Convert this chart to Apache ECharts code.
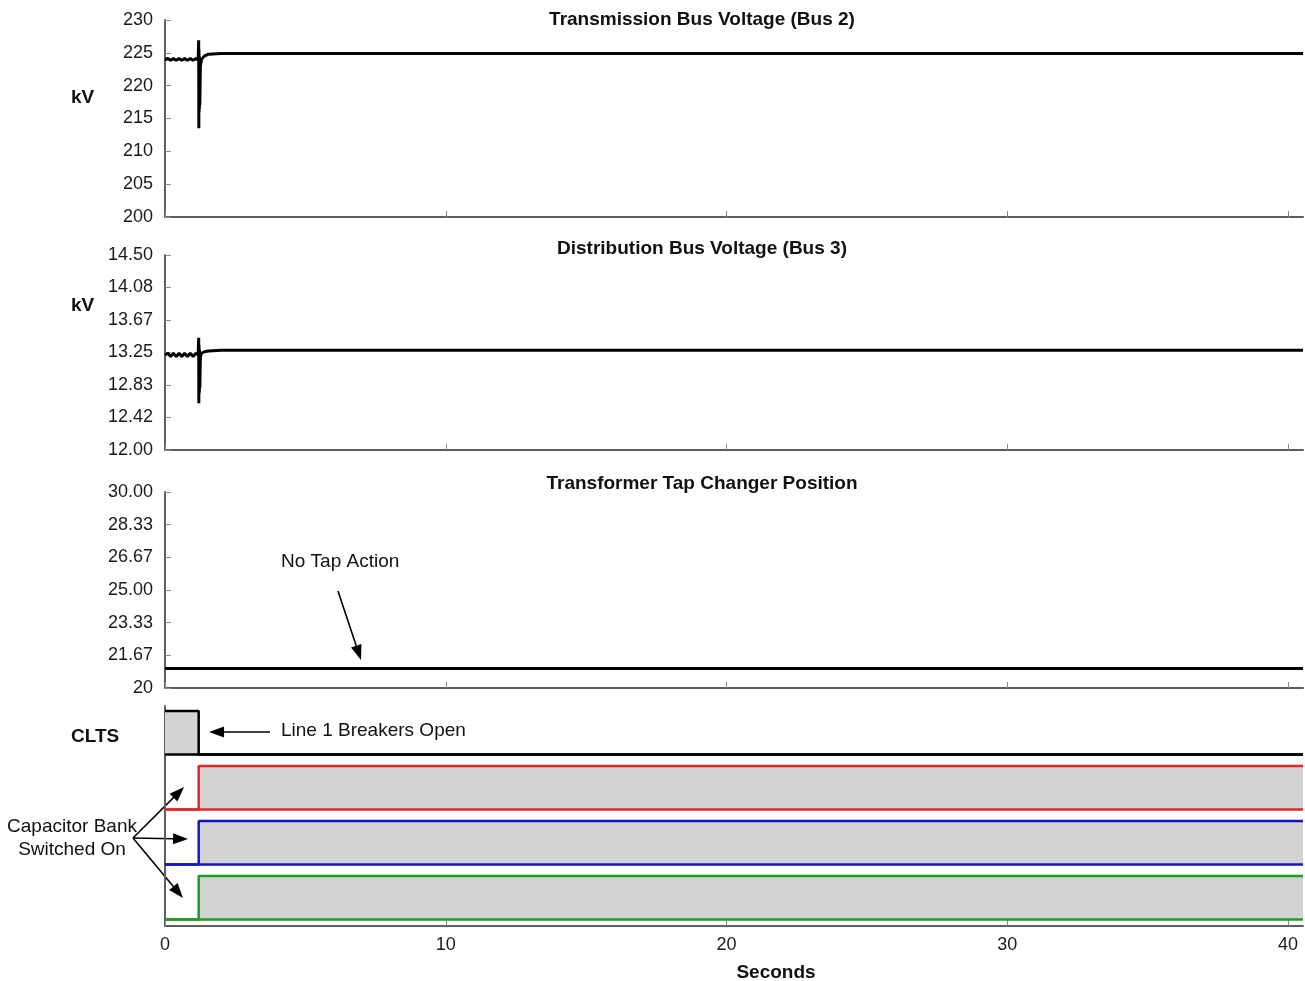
<!DOCTYPE html>
<html><head><meta charset="utf-8">
<script src="https://cdn.jsdelivr.net/npm/echarts@6/dist/echarts.min.js"></script>
<style>html,body{margin:0;padding:0;background:#fff}#c{width:1305px;height:981px}</style>
</head><body><div id="c"></div>
<script>
// ---------------- data ----------------
const timeEnd = 40.53;
const xTickValues = [0, 10, 20, 30, 40];
const xTickLabels = ['0', '10', '20', '30', '40'];

const bus2Time = [0, 0.1, 0.2, 0.3, 0.4, 0.5, 0.6, 0.7, 0.8, 0.9, 1.0, 1.1, 1.18, 1.2, 1.205, 1.21, 1.215, 1.22, 1.225, 1.23, 1.24, 1.26, 1.3, 1.4, 1.55, 2.0, 40.53];
const bus2Kv   = [223.9, 224.15, 223.85, 224.15, 223.85, 224.15, 223.85, 224.15, 223.85, 224.15, 223.85, 224.15, 223.9, 226.9, 213.5, 225.5, 216.0, 224.5, 216.5, 224.0, 217.0, 223.0, 224.0, 224.5, 224.8, 224.9, 224.9];

const bus3Time = [0, 0.1, 0.2, 0.3, 0.4, 0.5, 0.6, 0.7, 0.8, 0.9, 1.0, 1.1, 1.18, 1.2, 1.205, 1.21, 1.215, 1.22, 1.225, 1.23, 1.24, 1.26, 1.3, 1.4, 1.55, 2.0, 40.53];
const bus3Kv   = [13.22, 13.24, 13.20, 13.24, 13.20, 13.24, 13.20, 13.24, 13.20, 13.24, 13.20, 13.24, 13.22, 13.44, 12.60, 13.35, 12.72, 13.30, 12.75, 13.28, 12.80, 13.20, 13.24, 13.26, 13.27, 13.28, 13.28];

const tapTime = [0, 40.53];
const tapPosition = [21, 21];

const bus2TickLabels = ['200', '205', '210', '215', '220', '225', '230'];
const bus3TickLabels = ['12.00', '12.42', '12.83', '13.25', '13.67', '14.08', '14.50'];
const tapTickLabels  = ['20', '21.67', '23.33', '25.00', '26.67', '28.33', '30.00'];

const switchTime     = [0, 1.2, 1.2, 40.53];
const cltsState      = [1, 1, 0, 0];
const capRedState    = [0, 0, 1, 1];
const capBlueState   = [0, 0, 1, 1];
const capGreenState  = [0, 0, 1, 1];

// ---------------- chart ----------------
const FONT = '"Liberation Sans", Arial, sans-serif';
const chart = echarts.init(document.getElementById('c'), null, {renderer: 'canvas'});

const grids = [
  {left: 165, right: 2, top: 20, height: 197},
  {left: 165, right: 2, top: 255, height: 195},
  {left: 165, right: 2, top: 492, height: 196},
  {left: 165, right: 2, top: 706, height: 220}
];

function tickValues(min, max, labels) {
  const n = labels.length - 1;
  return labels.map((_, i) => min + i * (max - min) / n);
}
function yAxis(gi, min, max, labels) {
  const vals = tickValues(min, max, labels);
  return {
    type: 'value', gridIndex: gi, min: min, max: max,
    axisLine: {show: true, onZero: false, lineStyle: {color: '#5e5e5e', width: 2}},
    axisTick: {show: true, inside: true, length: 6, customValues: vals, lineStyle: {color: '#8a8a8a', width: 1}},
    axisLabel: {show: true, customValues: vals, margin: 12, fontSize: 18, fontFamily: FONT, color: '#1a1a1a',
      formatter: v => labels[Math.round((v - min) / ((max - min) / (labels.length - 1)))]},
    splitLine: {show: false}
  };
}
function xAxis(gi, showLabels) {
  return {
    type: 'value', gridIndex: gi, min: 0, max: timeEnd,
    axisLine: {show: true, onZero: false, lineStyle: {color: '#5e5e5e', width: 2}},
    axisTick: {show: true, inside: true, length: 6, customValues: xTickValues, lineStyle: {color: '#8a8a8a', width: 1}},
    axisLabel: {show: showLabels, customValues: xTickValues, margin: 10, fontSize: 18, fontFamily: FONT, color: '#1a1a1a',
      formatter: v => xTickLabels[xTickValues.indexOf(v)]},
    splitLine: {show: false}
  };
}

function zip(a, b) { return a.map((t, i) => [t, b[i]]); }
function level(band, state) { return band + 0.12 + state * 0.79; }

function digital(band, states, color) {
  return [
    {
      type: 'line', xAxisIndex: 3, yAxisIndex: 3, showSymbol: false, animation: false, z: 3,
      data: switchTime.map((t, i) => [t, level(band, states[i])]),
      lineStyle: {color: color, width: 2.5},
      areaStyle: {color: '#d3d3d3', opacity: 1, origin: level(band, 0)}
    },
    {
      type: 'line', xAxisIndex: 3, yAxisIndex: 3, showSymbol: false, animation: false, z: 4,
      data: [[0, level(band, 0)], [timeEnd, level(band, 0)]],
      lineStyle: {color: color, width: 2.5}
    }
  ];
}

const analog = (gi, data) => ({
  type: 'line', xAxisIndex: gi, yAxisIndex: gi, showSymbol: false, animation: false,
  data: data, lineStyle: {color: '#000', width: 3}
});

chart.setOption({
  animation: false,
  backgroundColor: '#fff',
  grid: grids,
  xAxis: [xAxis(0, false), xAxis(1, false), xAxis(2, false), xAxis(3, true)],
  yAxis: [
    yAxis(0, 200, 230, bus2TickLabels),
    yAxis(1, 12, 14.5, bus3TickLabels),
    yAxis(2, 20, 30, tapTickLabels),
    {type: 'value', gridIndex: 3, min: 0, max: 4,
     axisLine: {show: true, onZero: false, lineStyle: {color: '#5e5e5e', width: 2}},
     axisTick: {show: false}, axisLabel: {show: false}, splitLine: {show: false}}
  ],
  series: [
    analog(0, zip(bus2Time, bus2Kv)),
    analog(1, zip(bus3Time, bus3Kv)),
    analog(2, zip(tapTime, tapPosition)),
    ...digital(3, cltsState, '#000000'),
    ...digital(2, capRedState, '#e3262a'),
    ...digital(1, capBlueState, '#1414c8'),
    ...digital(0, capGreenState, '#1f9a2a')
  ]
});

// ---------------- annotations ----------------
function arrow(gi, from, to) {
  const p0 = chart.convertToPixel({xAxisIndex: gi, yAxisIndex: gi}, from);
  const p1 = chart.convertToPixel({xAxisIndex: gi, yAxisIndex: gi}, to);
  const dx = p1[0] - p0[0], dy = p1[1] - p0[1], L = Math.hypot(dx, dy);
  const ux = dx / L, uy = dy / L, head = 15, hw = 5.5;
  const bx = p1[0] - ux * head, by = p1[1] - uy * head;
  return [
    {type: 'line', silent: true, shape: {x1: p0[0], y1: p0[1], x2: bx, y2: by}, style: {stroke: '#000', lineWidth: 1.6}},
    {type: 'polygon', silent: true, shape: {points: [[p1[0], p1[1]], [bx - uy * hw, by + ux * hw], [bx + uy * hw, by - ux * hw]]}, style: {fill: '#000'}}
  ];
}
function text(x, y, str, opts) {
  return {type: 'text', silent: true, x: x, y: y, style: Object.assign({
    text: str, font: '19px ' + FONT, fill: '#111', textAlign: 'left', textVerticalAlign: 'middle'}, opts || {})};
}
const bold = s => ({font: 'bold ' + s + 'px ' + FONT});

const graphics = [
  text(702, 20, 'Transmission Bus Voltage (Bus 2)', Object.assign(bold(19), {textAlign: 'center'})),
  text(702, 249, 'Distribution Bus Voltage (Bus 3)', Object.assign(bold(19), {textAlign: 'center'})),
  text(702, 484, 'Transformer Tap Changer Position', Object.assign(bold(19), {textAlign: 'center'})),
  text(71, 98, 'kV', bold(19)),
  text(71, 306, 'kV', bold(19)),
  text(71, 737, 'CLTS', bold(19)),
  text(776, 973, 'Seconds', Object.assign(bold(19), {textAlign: 'center'})),
  text(281, 562, 'No Tap Action'),
  text(281, 731, 'Line 1 Breakers Open'),
  text(72, 827, 'Capacitor Bank', {textAlign: 'center'}),
  text(72, 850, 'Switched On', {textAlign: 'center'}),
  ...arrow(2, [6.16, 24.95], [6.98, 21.43]),
  ...arrow(3, [3.74, 3.527], [1.57, 3.527]),
  ...arrow(3, [-1.14, 1.6], [0.68, 2.527]),
  ...arrow(3, [-1.14, 1.6], [0.82, 1.58]),
  ...arrow(3, [-1.14, 1.6], [0.64, 0.51])
];
chart.setOption({graphic: graphics});
</script>
</body></html>
